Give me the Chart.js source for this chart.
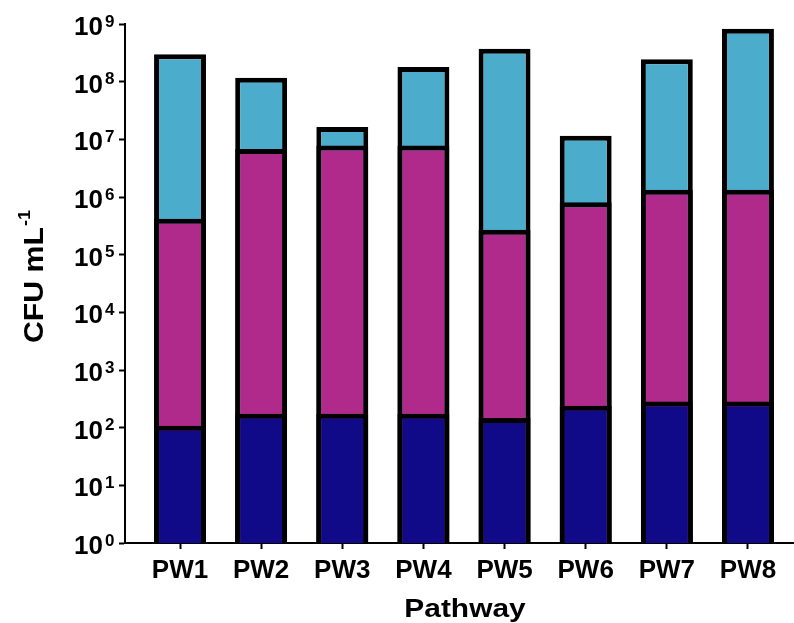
<!DOCTYPE html>
<html>
<head>
<meta charset="utf-8">
<script src="https://cdn.jsdelivr.net/npm/chart.js@4"></script>
<style>
  html, body { margin: 0; padding: 0; background: #fff; }
  canvas { display: block; }
</style>
</head>
<body>
<canvas id="myChart" width="794" height="623"></canvas>
<script>
// data
const categories = ['PW1', 'PW2', 'PW3', 'PW4', 'PW5', 'PW6', 'PW7', 'PW8'];
const navyValues = [108, 175, 175, 175, 147, 240, 284, 284];
const magentaValues = [4.2e5, 6.8e6, 7.8e6, 7.8e6, 2.7e5, 8.1e5, 1.33e6, 1.33e6];
const blueValues = [3.0e8, 1.17e8, 1.64e7, 1.8e8, 3.73e8, 1.15e7, 2.44e8, 8.3e8];
const yExponents = [0, 1, 2, 3, 4, 5, 6, 7, 8, 9];

const FONT = "Arial, 'Liberation Sans', sans-serif";

function points(values) {
    return values.map((v, i) => ({ x: i + 1, y: v }));
}

function barSet(label, values, color) {
    return {
        label: label,
        data: points(values),
        backgroundColor: color,
        borderColor: '#000',
        borderWidth: 5,
        categoryPercentage: 1,
        barPercentage: 0.64
    };
}

// y tick labels with superscript exponents, plus both axis titles
const labelPlugin = {
    id: 'labels',
    afterDraw(chart) {
        const ctx = chart.ctx;
        const yScale = chart.scales.y;
        ctx.save();
        ctx.fillStyle = '#000';
        ctx.textBaseline = 'alphabetic';
        yExponents.forEach(e => {
            const py = yScale.getPixelForValue(Math.pow(10, e));
            ctx.font = 'bold 26px ' + FONT;
            ctx.textAlign = 'right';
            ctx.fillText('10', 103, py + 11);
            ctx.font = 'bold 17px ' + FONT;
            ctx.textAlign = 'left';
            ctx.fillText(String(e), 105, py + 2.5);
        });

        // x title
        ctx.save();
        ctx.translate(465, 617);
        ctx.scale(1.15, 1);
        ctx.font = 'bold 26px ' + FONT;
        ctx.textAlign = 'center';
        ctx.fillText('Pathway', 0, 0);
        ctx.restore();

        // y title
        ctx.save();
        ctx.translate(43, 343);
        ctx.rotate(-Math.PI / 2);
        ctx.scale(1.12, 1);
        ctx.font = 'bold 27px ' + FONT;
        ctx.textAlign = 'left';
        ctx.fillText('CFU mL', 0, 0);
        const w = ctx.measureText('CFU mL').width;
        ctx.font = 'bold 16px ' + FONT;
        ctx.fillText('-1', w + 1, -13);
        ctx.restore();

        ctx.restore();
    }
};

const data = {
    datasets: [
        barSet('navy', navyValues, '#100A88'),
        barSet('magenta', magentaValues, '#B02A8C'),
        barSet('blue', blueValues, '#4BACCB')
    ]
};

const config = {
    type: 'bar',
    data,
    options: {
        responsive: false,
        animation: false,
        devicePixelRatio: 1,
        layout: { padding: { top: 24, right: 1, left: 0, bottom: 0 } },
        plugins: {
            legend: { display: false },
            tooltip: { enabled: false }
        },
        scales: {
            x: {
                type: 'linear',
                stacked: true,
                min: 0.322,
                max: 8.555,
                offset: false,
                afterFit: (scale) => { scale.height = 80; },
                afterBuildTicks: (scale) => {
                    scale.ticks = categories.map((c, i) => ({ value: i + 1 }));
                },
                grid: {
                    offset: false,
                    drawOnChartArea: false,
                    drawTicks: true,
                    tickLength: 6,
                    tickWidth: 2,
                    tickColor: '#000'
                },
                border: { display: true, color: '#000', width: 2 },
                ticks: {
                    autoSkip: false,
                    maxRotation: 0,
                    padding: 6,
                    color: '#000',
                    font: { family: FONT, size: 26, weight: 'bold', lineHeight: 1.2 },
                    callback: (v) => categories[Math.round(v) - 1] || ''
                }
            },
            y: {
                type: 'logarithmic',
                stacked: false,
                min: 1,
                max: 1e9,
                afterFit: (scale) => { scale.width = 125; },
                afterBuildTicks: (scale) => {
                    scale.ticks = yExponents.map(e => ({ value: Math.pow(10, e) }));
                },
                grid: {
                    drawOnChartArea: false,
                    drawTicks: true,
                    tickLength: 6,
                    tickWidth: 2,
                    tickColor: '#000'
                },
                border: { display: true, color: '#000', width: 2 },
                ticks: { display: false }
            }
        }
    },
    plugins: [labelPlugin]
};

var myChart = new Chart(
    document.getElementById('myChart'),
    config
);
</script>
</body>
</html>
